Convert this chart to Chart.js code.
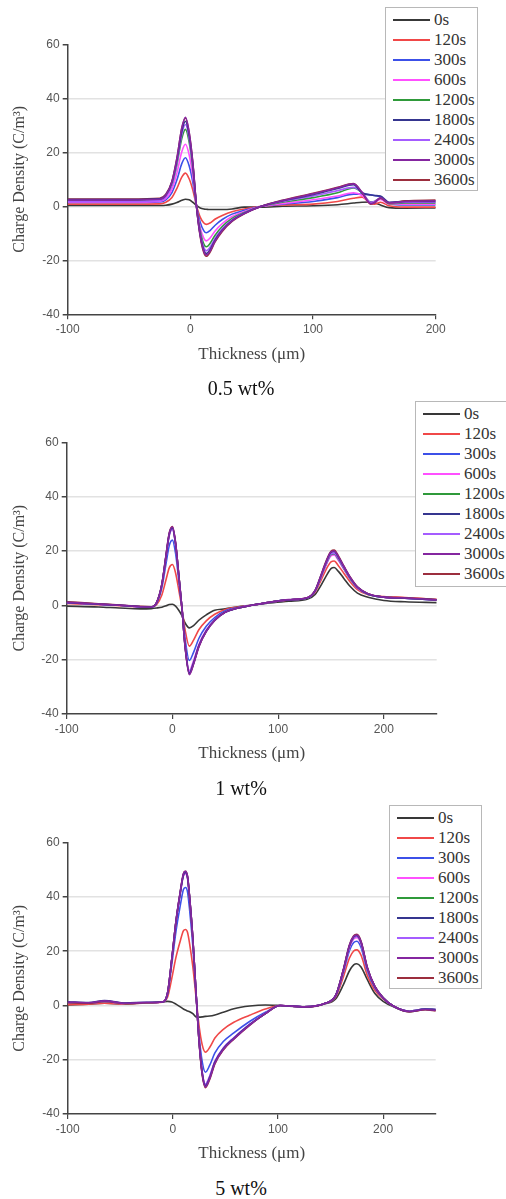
<!DOCTYPE html>
<html lang="en">
<head>
<meta charset="UTF-8">
<title>Charge density profiles</title>
<script src="https://cdn.jsdelivr.net/npm/chart.js"></script>
<style>
  body { margin: 0; background: #fff; width: 506px; height: 1199px; position: relative; overflow: hidden; }
  canvas.panel { position: absolute; left: 0; }
  .caption { position: absolute; left: 0; width: 482px; text-align: center; font: 20px "Liberation Serif", serif; line-height: 24px; color: #111; }
  .legend { position: absolute; background: #fff; border: 1.5px solid #b8b8b8; box-sizing: border-box; padding-top: 2px; z-index: 2; }
  .legend .row { display: flex; align-items: center; height: 20px; }
  .legend .swatch { width: 37px; height: 2px; margin-left: 7px; margin-right: 4px; }
  .legend .txt { font: 17px "Liberation Serif", serif; color: #333; white-space: nowrap; }
</style>
</head>
<body>
<canvas id="c1" class="panel" width="506" height="370" style="top:0px"></canvas>
<canvas id="c2" class="panel" width="506" height="370" style="top:395px"></canvas>
<canvas id="c3" class="panel" width="506" height="370" style="top:795px"></canvas>
<div class="caption" style="top:376px">0.5 wt%</div>
<div class="caption" style="top:776px">1 wt%</div>
<div class="caption" style="top:1176px">5 wt%</div>
<div id="lg1" class="legend" style="left:385px; top:7px; width:93px; height:184px"></div>
<div id="lg2" class="legend" style="left:415px; top:401px; width:93px; height:186px"></div>
<div id="lg3" class="legend" style="left:389px; top:805px; width:93px; height:184px"></div>

<script>
// series names and colours
const times = ['0s', '120s', '300s', '600s', '1200s', '1800s', '2400s', '3000s', '3600s'];
const colors = ['#383838', '#f04848', '#3c50e8', '#ff50ff', '#2f9a3a', '#35358f', '#a55cff', '#8526a0', '#9c2e3e'];
// lower = drawn on top
const drawOrder = [8, 7, 6, 5, 4, 1, 3, 0, 2];

// tick labels
const yTicks = [-40, -20, 0, 20, 40, 60];
const xTicks = [-100, 0, 100, 200];

// ---- 0.5 wt% ----
const thick05 = [-100, -50, -25, -20, -15, -11, -7, -4, -1, 2, 5, 8, 11, 13, 16, 20, 26, 34, 44, 58, 75, 100, 120, 133, 140, 147, 150, 155, 162, 175, 200];
const wt05_0    = [0.3, 0.3, 0.3, 0.4, 0.8, 1.4, 2.2, 2.6, 2.4, 1.5, 0.3, -0.6, -1.0, -1.1, -1.2, -1.2, -1.2, -1.0, -0.3, -0.3, 0, 0.2, 0.6, 1.2, 1.5, 1.6, 1.3, 0.5, -0.5, -0.7, -0.6];
const wt05_120  = [0.8, 0.8, 0.9, 1.5, 3.3, 6.6, 10.8, 12.3, 10.2, 6.0, 0.2, -4.0, -6.2, -6.7, -6.2, -4.8, -3.4, -2.0, -1.0, 0, 0.5, 0.8, 1.8, 3.0, 3.4, 1.0, 0.8, 1.5, 0.2, -0.3, -0.3];
const wt05_300  = [1.4, 1.4, 1.6, 2.4, 5.1, 9.7, 15.8, 18.0, 15.0, 8.9, 0, -5.9, -9.1, -9.8, -9.0, -7.1, -4.9, -2.9, -1.5, 0, 0.8, 1.8, 3.2, 4.5, 4.5, 4.3, 4.0, 3.5, 1.0, 0.5, 0.5];
const wt05_600  = [1.6, 1.6, 1.8, 2.9, 6.3, 12.3, 20.2, 23.0, 19.1, 11.2, 0, -7.7, -11.9, -12.8, -11.8, -9.2, -6.4, -3.8, -1.9, 0, 1.0, 2.4, 3.8, 5.0, 4.0, 1.2, 1.5, 2.5, 0.8, 0.8, 0.8];
const wt05_1200 = [2.2, 2.2, 2.5, 3.8, 8.0, 15.4, 25.1, 28.5, 23.8, 14.0, 0, -9.0, -14.0, -15.0, -13.8, -10.8, -7.5, -4.5, -2.3, 0, 1.5, 3.2, 5.0, 6.8, 5.0, 1.5, 1.8, 3.0, 1.0, 1.2, 1.2];
const wt05_1800 = [2.5, 2.5, 2.8, 4.2, 8.9, 17.0, 27.7, 31.5, 26.3, 15.6, 0, -10.5, -16.3, -17.5, -16.1, -12.6, -8.8, -5.3, -2.6, 0, 2.0, 4.3, 6.6, 8.0, 5.0, 4.2, 4.0, 3.8, 1.5, 1.8, 1.8];
const wt05_2400 = [1.8, 1.8, 2.1, 3.5, 8.1, 16.1, 26.6, 30.3, 25.2, 14.6, 0, -9.9, -15.3, -16.5, -15.2, -11.9, -8.3, -5.0, -2.5, 0, 1.8, 3.8, 5.8, 7.0, 5.2, 1.5, 1.8, 3.0, 1.2, 1.5, 1.5];
const wt05_3000 = [2.3, 2.3, 2.6, 4.1, 9.1, 17.7, 29.0, 33.0, 27.5, 16.1, 0, -10.8, -16.7, -18.0, -16.6, -13.0, -9.0, -5.4, -2.7, 0, 2.1, 4.6, 6.9, 8.3, 5.2, 1.0, 1.3, 3.2, 1.3, 1.8, 2.0];
const wt05_3600 = [2.7, 2.7, 3.0, 4.5, 9.3, 17.7, 28.8, 32.7, 27.3, 16.2, 0, -11.1, -17.2, -18.5, -17.0, -13.3, -9.3, -5.6, -2.8, 0, 2.2, 4.8, 7.0, 8.4, 5.0, 0.8, 1.3, 3.0, 1.2, 2.0, 2.3];

// ---- 1 wt% ----
const thick1 = [-100, -70, -50, -30, -20, -15, -10, -6, -3, 0, 3, 6, 9, 12, 16, 20, 25, 32, 40, 50, 62, 75, 90, 110, 128, 135, 140, 145, 150, 153, 157, 162, 168, 175, 185, 200, 220, 250];
const wt1_0    = [-0.3, -0.6, -1.0, -1.3, -1.2, -1.0, -0.7, -0.2, 0.3, 0.4, -0.3, -1.8, -3.8, -6.5, -8.3, -7.5, -5.5, -3.5, -1.8, -1.3, -0.5, 0, 0.8, 1.5, 2.3, 4.0, 7.0, 10.5, 13.5, 13.9, 12.5, 10.0, 7.0, 4.5, 3.0, 1.8, 1.3, 1.0];
const wt1_120  = [0.7, 0.2, -0.1, -0.6, -0.6, 0.2, 3.8, 9.5, 13.8, 15.0, 11.9, 5.7, -1.0, -9.0, -15.0, -12.8, -9.0, -5.7, -3.3, -1.5, -0.6, 0, 1.0, 2.0, 2.8, 4.8, 8.7, 12.9, 16.0, 16.3, 14.6, 11.9, 8.7, 5.8, 3.9, 3.2, 2.9, 2.2];
const wt1_300  = [0.9, 0.4, 0.0, -0.5, -0.6, 0.7, 6.4, 15.4, 22.0, 24.0, 19.1, 9.3, -0.8, -12.2, -20.3, -17.3, -12.2, -7.7, -4.5, -2.0, -0.8, 0, 1.0, 2.0, 2.8, 5.3, 9.8, 14.7, 18.5, 18.8, 16.8, 13.6, 9.8, 6.4, 4.1, 3.0, 2.6, 2.0];
const wt1_600  = [1.0, 0.4, 0.0, -0.5, -0.6, 0.9, 7.4, 18.0, 25.7, 28.0, 22.3, 10.9, -1.0, -14.4, -24.0, -20.4, -14.4, -9.1, -5.3, -2.4, -1.0, 0, 1.0, 2.0, 2.8, 5.2, 9.7, 14.5, 18.2, 18.5, 16.6, 13.4, 9.7, 6.3, 4.1, 3.0, 2.6, 2.0];
const wt1_1200 = [1.1, 0.5, 0.0, -0.5, -0.6, 0.9, 7.5, 18.1, 26.0, 28.3, 22.5, 11.0, -1.0, -14.9, -24.8, -21.1, -14.9, -9.4, -5.5, -2.5, -1.0, 0, 1.0, 2.0, 2.8, 5.3, 9.9, 14.9, 18.7, 19.0, 17.0, 13.7, 9.9, 6.5, 4.1, 3.0, 2.6, 2.0];
const wt1_1800 = [1.0, 0.4, 0.0, -0.5, -0.6, 0.9, 7.6, 18.3, 26.2, 28.5, 22.7, 11.1, -1.0, -15.0, -25.0, -21.3, -15.0, -9.5, -5.5, -2.5, -1.0, 0, 1.0, 2.0, 2.8, 5.4, 10.3, 15.5, 19.5, 19.8, 17.7, 14.3, 10.3, 6.7, 4.2, 3.0, 2.6, 2.0];
const wt1_2400 = [1.0, 0.4, 0.0, -0.5, -0.6, 0.9, 7.4, 18.0, 25.7, 28.0, 22.3, 10.9, -1.0, -14.7, -24.5, -20.8, -14.7, -9.3, -5.4, -2.5, -1.0, 0, 1.0, 2.0, 2.8, 5.3, 10.0, 15.0, 18.9, 19.2, 17.2, 13.9, 10.0, 6.5, 4.2, 3.0, 2.6, 2.0];
const wt1_3000 = [1.1, 0.5, 0.0, -0.5, -0.6, 1.0, 7.7, 18.5, 26.5, 28.8, 23.0, 11.2, -1.0, -15.3, -25.5, -21.7, -15.3, -9.7, -5.6, -2.6, -1.0, 0, 1.0, 2.1, 2.9, 5.5, 10.4, 15.6, 19.7, 20.0, 17.9, 14.4, 10.4, 6.7, 4.3, 3.0, 2.7, 2.0];
const wt1_3600 = [1.3, 0.6, 0.1, -0.4, -0.5, 1.0, 7.8, 18.7, 26.6, 29.0, 23.1, 11.3, -1.0, -15.2, -25.3, -21.5, -15.2, -9.6, -5.6, -2.5, -1.0, 0, 1.0, 2.0, 2.9, 5.5, 10.5, 15.9, 19.9, 20.3, 18.2, 14.6, 10.5, 6.8, 4.3, 3.0, 2.8, 2.1];

// ---- 5 wt% ----
const thick5 = [-100, -80, -65, -45, -25, -10, -5, -1, 3, 7, 10, 12, 14, 16, 19, 22, 25, 28, 31, 35, 40, 48, 58, 73, 88, 102, 125, 145, 155, 162, 168, 172, 175, 179, 185, 192, 200, 210, 225, 240, 250];
const wt5_0    = [0.2, 0.5, 0.8, 0.6, 1.0, 1.3, 1.5, 1.3, 0.5, -0.5, -1.3, -1.7, -2.0, -2.3, -3.0, -4.2, -4.3, -4.2, -4.0, -3.9, -3.5, -2.5, -1.2, -0.2, 0.2, 0, -0.5, 0.6, 2.5, 7.5, 12.8, 15.0, 15.4, 14.2, 9.5, 4.5, 1.5, -0.5, -2.3, -1.5, -1.8];
const wt5_120  = [0.3, 0.5, 0.8, 0.5, 0.9, 1.2, 3.1, 10.0, 17.8, 23.7, 27.5, 28.0, 26.9, 22.6, 14.3, 3.3, -7.7, -14.6, -17.2, -15.5, -12.0, -8.8, -6.2, -3.6, -1.3, 0, -0.5, 0.8, 3.2, 10.3, 17.5, 20.1, 20.5, 18.5, 11.0, 5.7, 2.4, -0.3, -2.2, -1.4, -1.7];
const wt5_300  = [1.1, 0.8, 1.5, 0.8, 1.0, 1.3, 4.2, 15.2, 27.4, 36.7, 42.7, 43.5, 41.8, 35.0, 21.9, 4.6, -11.1, -20.9, -24.6, -22.1, -17.5, -13.3, -10.1, -5.9, -2.5, 0, -0.5, 0.8, 3.5, 11.8, 20.3, 23.2, 23.7, 21.4, 12.7, 6.5, 2.6, -0.3, -2.1, -1.3, -1.5];
const wt5_600  = [1.0, 0.8, 1.4, 0.7, 1.0, 1.3, 4.6, 16.9, 30.6, 41.0, 47.6, 48.5, 46.6, 39.1, 24.4, 5.1, -13.1, -24.7, -29.0, -26.1, -20.6, -15.7, -11.9, -7.0, -2.9, 0, -0.5, 0.8, 3.7, 12.4, 21.4, 24.5, 25.0, 22.6, 13.4, 6.9, 2.7, -0.3, -2.1, -1.3, -1.5];
const wt5_1200 = [1.1, 0.9, 1.5, 0.7, 1.0, 1.3, 4.6, 17.0, 30.9, 41.4, 48.0, 49.0, 47.1, 39.5, 24.7, 5.1, -13.3, -25.1, -29.5, -26.6, -20.9, -15.9, -12.1, -7.1, -3.0, 0, -0.5, 0.8, 3.8, 12.7, 21.8, 25.0, 25.5, 23.0, 13.6, 7.0, 2.8, -0.3, -2.1, -1.3, -1.5];
const wt5_1800 = [1.4, 1.1, 1.8, 0.9, 1.2, 1.3, 4.6, 17.0, 30.9, 41.4, 48.0, 49.0, 47.1, 39.5, 24.7, 5.1, -13.3, -25.1, -29.5, -26.6, -20.9, -15.9, -12.1, -7.1, -3.0, 0, -0.5, 0.8, 3.8, 12.8, 22.1, 25.3, 25.8, 23.3, 13.8, 7.0, 2.8, -0.3, -2.2, -1.3, -1.5];
const wt5_2400 = [1.2, 0.9, 1.6, 0.8, 1.1, 1.3, 4.6, 17.0, 30.9, 41.4, 48.0, 49.0, 47.1, 39.5, 24.7, 5.1, -13.1, -24.7, -29.0, -26.1, -20.6, -15.7, -11.9, -7.0, -2.9, 0, -0.5, 0.8, 3.8, 12.7, 21.8, 25.0, 25.5, 23.0, 13.6, 7.0, 2.8, -0.3, -2.1, -1.3, -1.5];
const wt5_3000 = [1.3, 1.0, 1.7, 0.8, 1.1, 1.3, 4.7, 17.2, 31.2, 41.8, 48.5, 49.5, 47.6, 39.9, 24.9, 5.1, -13.5, -25.5, -30.0, -27.0, -21.3, -16.2, -12.3, -7.2, -3.0, 0, -0.5, 0.8, 3.8, 12.9, 22.2, 25.5, 26.0, 23.5, 13.9, 7.1, 2.8, -0.3, -2.2, -1.5, -1.8];
const wt5_3600 = [1.0, 0.8, 1.5, 0.7, 1.0, 1.3, 4.6, 17.1, 31.1, 41.8, 48.5, 49.5, 47.6, 39.8, 24.9, 5.1, -13.6, -25.8, -30.3, -27.3, -21.5, -16.4, -12.4, -7.3, -3.0, 0, -0.6, 0.8, 3.8, 13.0, 22.4, 25.7, 26.2, 23.7, 14.0, 7.1, 2.8, -0.3, -2.3, -1.6, -2.0];

Chart.defaults.font.family = '"Liberation Sans", Arial, sans-serif';

function buildLegend(id) {
    const box = document.getElementById(id);
    times.forEach(function (t, i) {
        const row = document.createElement('div');
        row.className = 'row';
        row.innerHTML = '<span class="swatch" style="background:' + colors[i] + '"></span><span class="txt">' + t + '</span>';
        box.appendChild(row);
    });
}

function makePanel(canvasId, xs, series, xMax, pad, yWidth) {
    const datasets = series.map(function (ys, i) {
        return {
            label: times[i],
            data: xs.map(function (x, k) { return { x: x, y: ys[k] }; }),
            borderColor: colors[i],
            borderWidth: 1.6,
            pointRadius: 0,
            fill: false,
            cubicInterpolationMode: 'monotone',
            order: drawOrder[i]
        };
    });

    return new Chart(document.getElementById(canvasId), {
        type: 'line',
        data: { datasets: datasets },
        options: {
            responsive: false,
            animation: false,
            devicePixelRatio: 1,
            layout: { padding: pad },
            plugins: { legend: { display: false }, tooltip: { enabled: false } },
            scales: {
                x: {
                    type: 'linear',
                    min: -100,
                    max: xMax,
                    afterBuildTicks: function (s) { s.ticks = xTicks.map(function (v) { return { value: v }; }); },
                    afterFit: function (s) { s.height = 50; },
                    grid: { drawOnChartArea: false, drawTicks: true, tickLength: 5, tickColor: '#444', lineWidth: 1.2 },
                    border: { color: '#444', width: 1.5 },
                    ticks: { color: '#555', font: { size: 12 }, padding: 3, maxRotation: 0 },
                    title: { display: true, text: 'Thickness (μm)', color: '#444', font: { family: '"Liberation Serif", serif', size: 17 }, padding: { top: 0, bottom: 0 } }
                },
                y: {
                    min: -40,
                    max: 60,
                    afterBuildTicks: function (s) { s.ticks = yTicks.map(function (v) { return { value: v }; }); },
                    afterFit: function (s) { s.width = yWidth; },
                    grid: {
                        color: function (c) { return (c.tick && (c.tick.value === 60 || c.tick.value === -40)) ? 'rgba(0,0,0,0)' : '#e2e2e2'; },
                        lineWidth: 1.5,
                        tickLength: 5,
                        tickColor: '#444'
                    },
                    border: { color: '#444', width: 1.5 },
                    ticks: { color: '#555', font: { size: 12 }, padding: 3 },
                    title: { display: true, text: 'Charge Density (C/m³)', color: '#444', font: { family: '"Liberation Serif", serif', size: 16 }, padding: { top: 10, bottom: 0 } }
                }
            }
        }
    });
}

makePanel('c1', thick05,
    [wt05_0, wt05_120, wt05_300, wt05_600, wt05_1200, wt05_1800, wt05_2400, wt05_3000, wt05_3600],
    200, { top: 44.3, left: 0, right: 70.3, bottom: 5.7 }, 67.7);
makePanel('c2', thick1,
    [wt1_0, wt1_120, wt1_300, wt1_600, wt1_1200, wt1_1800, wt1_2400, wt1_3000, wt1_3600],
    250, { top: 47.3, left: 0, right: 69.3, bottom: 1 }, 66.7);
makePanel('c3', thick5,
    [wt5_0, wt5_120, wt5_300, wt5_600, wt5_1200, wt5_1800, wt5_2400, wt5_3000, wt5_3600],
    250, { top: 47.7, left: 0, right: 70.3, bottom: 1 }, 67.7);

buildLegend('lg1');
buildLegend('lg2');
buildLegend('lg3');
</script>
</body>
</html>
